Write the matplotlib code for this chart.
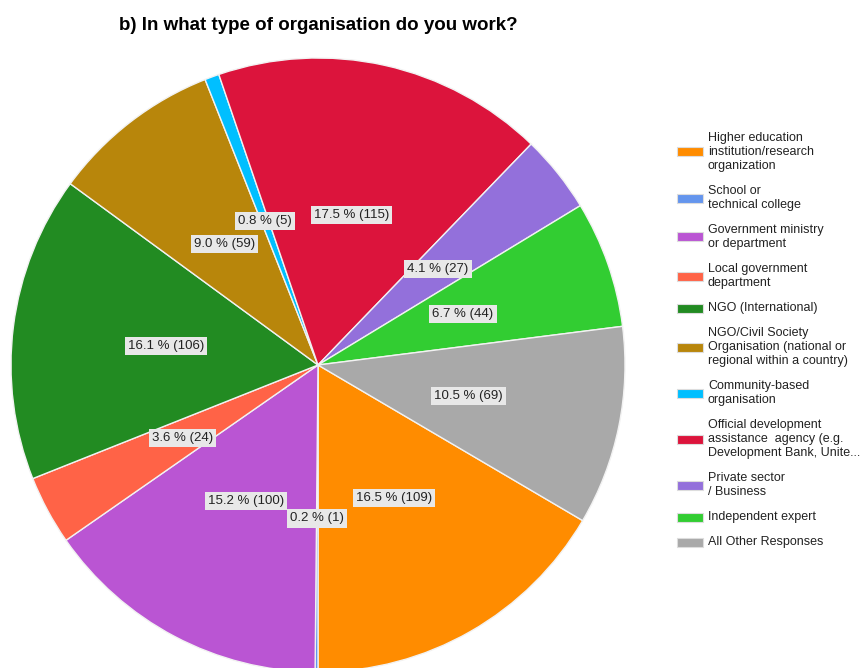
import matplotlib
matplotlib.use("Agg")
import matplotlib.pyplot as plt
from matplotlib.patches import Rectangle

plt.rcParams['font.family'] = ['Liberation Sans', 'DejaVu Sans']

categories = [
    "Higher education\ninstitution/research\norganization",
    "School or\ntechnical college",
    "Government ministry\nor department",
    "Local government\ndepartment",
    "NGO (International)",
    "NGO/Civil Society\nOrganisation (national or\nregional within a country)",
    "Community-based\norganisation",
    "Official development\nassistance  agency (e.g.\nDevelopment Bank, Unite...",
    "Private sector\n/ Business",
    "Independent expert",
    "All Other Responses",
]
counts = [109, 1, 100, 24, 106, 59, 5, 115, 27, 44, 69]
colors = ["#FF8C00", "#6495ED", "#BA55D3", "#FF6347", "#228B22", "#B8860B",
          "#00BFFF", "#DC143C", "#9370DB", "#32CD32", "#A9A9A9"]

total = sum(counts)
labels = [f"{c / total * 100:.1f} % ({c})" for c in counts]

W, H = 862, 668
fig = plt.figure(figsize=(W / 100, H / 100), dpi=100)
fig.patch.set_facecolor("white")

# pie centred at (318, 365) px with radius 307 px
cx, cy, r = 318, 365, 307
ax = fig.add_axes([(cx - r) / W, (H - cy - r) / H, 2 * r / W, 2 * r / H])

# first slice ends at 6 o'clock, slices run clockwise
start = -90 + 360 * counts[0] / total
lab_iter = iter(labels)
wedges, _, autotexts = ax.pie(
    counts, colors=colors, startangle=start, counterclock=False,
    autopct=lambda p: next(lab_iter), pctdistance=0.5, radius=1.0,
    wedgeprops=dict(edgecolor="#F2F2F2", linewidth=1.0),
)
for t in autotexts:
    t.set_fontsize(9.5)
    t.set_color("#222222")
    t.set_bbox(dict(facecolor="#E8E8E8", edgecolor="none", pad=2.2))
ax.set_xlim(-1, 1)
ax.set_ylim(-1, 1)
ax.set_aspect("equal")
ax.axis("off")

fig.text(318 / W, 1 - 25 / H, "b) In what type of organisation do you work?",
         ha="center", va="center", fontsize=13.5, fontweight="bold", color="black")

# legend drawn by hand: 14 px per text line, 11 px gap between entries
LINE, GAP = 14, 11
y = 152
prev = None
for col, lab in zip(colors, categories):
    n = lab.count("\n") + 1
    if prev is not None:
        y += LINE * (prev + n) / 2 + GAP
    fig.add_artist(Rectangle((677 / W, 1 - (y + 4.5) / H), 26 / W, 9 / H,
                             transform=fig.transFigure, facecolor=col,
                             edgecolor="#DDDDDD", linewidth=0.8))
    fig.text(708 / W, 1 - y / H, lab, ha="left", va="center", fontsize=9,
             color="#222222", linespacing=1.22)
    prev = n

fig.savefig("out.png", dpi=100, facecolor="white")
